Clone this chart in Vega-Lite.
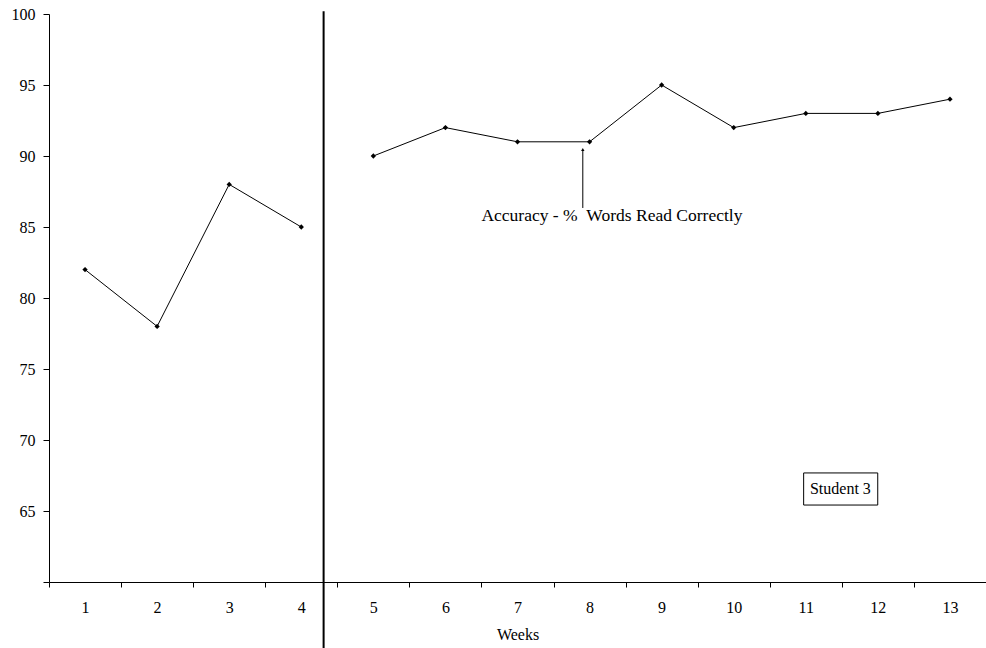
{
  "$schema": "https://vega.github.io/schema/vega-lite/v6.json",
  "width": 937,
  "height": 568,
  "autosize": {"type": "none"},
  "padding": {"left": 49, "top": 14, "right": 0, "bottom": 66},
  "background": "white",
  "config": {
    "view": {"stroke": null},
    "font": "Liberation Serif",
    "axis": {
      "labelFont": "Liberation Serif",
      "labelFontSize": 16,
      "labelColor": "black",
      "titleFont": "Liberation Serif",
      "titleFontSize": 16,
      "titleFontWeight": "normal",
      "titleColor": "black",
      "domainColor": "black",
      "tickColor": "black",
      "grid": false
    }
  },
  "datasets": {
    "scores": [
      {"week": 1, "accuracy": 82, "phase": "A"},
      {"week": 2, "accuracy": 78, "phase": "A"},
      {"week": 3, "accuracy": 88, "phase": "A"},
      {"week": 4, "accuracy": 85, "phase": "A"},
      {"week": 5, "accuracy": 90, "phase": "B"},
      {"week": 6, "accuracy": 92, "phase": "B"},
      {"week": 7, "accuracy": 91, "phase": "B"},
      {"week": 8, "accuracy": 91, "phase": "B"},
      {"week": 9, "accuracy": 95, "phase": "B"},
      {"week": 10, "accuracy": 92, "phase": "B"},
      {"week": 11, "accuracy": 93, "phase": "B"},
      {"week": 12, "accuracy": 93, "phase": "B"},
      {"week": 13, "accuracy": 94, "phase": "B"}
    ]
  },
  "layer": [
    {
      "data": {"name": "scores"},
      "mark": {"type": "line", "color": "black", "strokeWidth": 1, "clip": false},
      "encoding": {
        "x": {
          "field": "week", "type": "quantitative",
          "scale": {"domain": [0.5, 13.5], "nice": false, "zero": false},
          "axis": {
            "title": "Weeks",
            "values": [0.5, 1.5, 2.5, 3.5, 4.5, 5.5, 6.5, 7.5, 8.5, 9.5, 10.5, 11.5, 12.5, 13.5],
            "labelExpr": "datum.value > 13 ? '' : format(datum.value + 0.5, 'd')",
            "labelOffset": 36,
            "tickSize": 5,
            "labelPadding": 12,
            "titlePadding": 11,
            "labelFlush": false,
            "labelOverlap": false
          }
        },
        "y": {
          "field": "accuracy", "type": "quantitative",
          "scale": {"domain": [60, 100], "nice": false, "zero": false},
          "axis": {
            "title": null,
            "values": [60, 65, 70, 75, 80, 85, 90, 95, 100],
            "labelExpr": "datum.value == 60 ? '' : datum.label",
            "tickSize": 6,
            "labelPadding": 8,
            "labelFlush": false,
            "labelOverlap": false
          }
        },
        "detail": {"field": "phase"}
      }
    },
    {
      "data": {"name": "scores"},
      "mark": {"type": "point", "shape": "diamond", "filled": true, "color": "black", "size": 28, "opacity": 1},
      "encoding": {
        "x": {"field": "week", "type": "quantitative"},
        "y": {"field": "accuracy", "type": "quantitative"}
      }
    },
    {
      "data": {"values": [{"x": 4.31, "y": 100.2, "y2": 55.3}]},
      "mark": {"type": "rule", "color": "black", "strokeWidth": 2, "clip": false},
      "encoding": {
        "x": {"field": "x", "type": "quantitative"},
        "y": {"field": "y", "type": "quantitative"},
        "y2": {"field": "y2"}
      }
    },
    {
      "data": {"values": [{"x": 7.906, "y": 90.4, "y2": 86.34}]},
      "mark": {"type": "rule", "color": "black", "strokeWidth": 1},
      "encoding": {
        "x": {"field": "x", "type": "quantitative"},
        "y": {"field": "y", "type": "quantitative"},
        "y2": {"field": "y2"}
      }
    },
    {
      "data": {"values": [{"x": 7.906, "y": 90.45}]},
      "mark": {"type": "point", "shape": "triangle-up", "filled": true, "color": "black", "size": 12, "opacity": 1},
      "encoding": {
        "x": {"field": "x", "type": "quantitative"},
        "y": {"field": "y", "type": "quantitative"}
      }
    },
    {
      "data": {"values": [{"x": 8.31, "y": 85.77, "label": "Accuracy - % \u00a0Words Read Correctly"}]},
      "mark": {"type": "text", "font": "Liberation Serif", "fontSize": 17.5, "color": "black", "align": "center", "baseline": "middle"},
      "encoding": {
        "x": {"field": "x", "type": "quantitative"},
        "y": {"field": "y", "type": "quantitative"},
        "text": {"field": "label"}
      }
    },
    {
      "data": {"values": [{"x": 10.97, "x2": 11.998, "y": 67.68, "y2": 65.42}]},
      "mark": {"type": "rect", "fill": "white", "stroke": "black", "strokeWidth": 1},
      "encoding": {
        "x": {"field": "x", "type": "quantitative"},
        "x2": {"field": "x2"},
        "y": {"field": "y", "type": "quantitative"},
        "y2": {"field": "y2"}
      }
    },
    {
      "data": {"values": [{"x": 11.48, "y": 66.55, "label": "Student 3"}]},
      "mark": {"type": "text", "font": "Liberation Serif", "fontSize": 16, "color": "black", "align": "center", "baseline": "middle"},
      "encoding": {
        "x": {"field": "x", "type": "quantitative"},
        "y": {"field": "y", "type": "quantitative"},
        "text": {"field": "label"}
      }
    }
  ]
}
